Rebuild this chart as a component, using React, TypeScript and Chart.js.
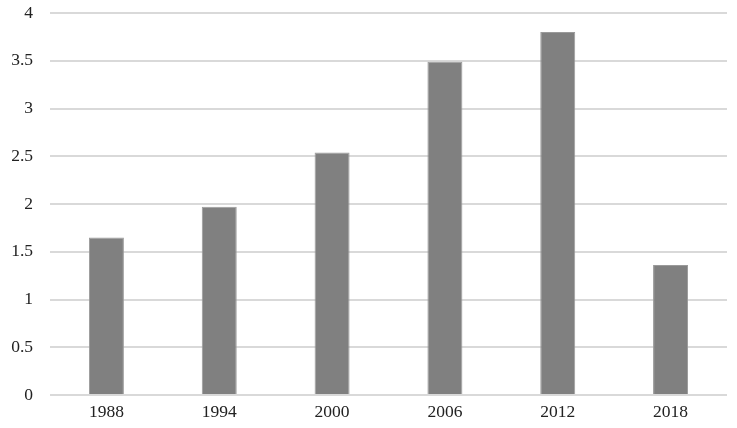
import React, { useEffect, useRef } from "react";
import { Chart, registerables } from "chart.js";

Chart.register(...registerables);

const categories = ["1988", "1994", "2000", "2006", "2012", "2018"];
const values = [1.65, 1.97, 2.54, 3.49, 3.8, 1.36];
const yTicks = [0, 0.5, 1, 1.5, 2, 2.5, 3, 3.5, 4];

export default function App() {
  const ref = useRef<HTMLCanvasElement>(null);
  useEffect(() => {
    document.body.style.margin = "0";
    const font = { family: "'Liberation Serif', 'Times New Roman', serif", size: 17.5 };
    const chart = new Chart(ref.current!, {
      type: "bar",
      data: {
        labels: categories,
        datasets: [
          {
            data: values,
            backgroundColor: "#808080",
            borderColor: "#9a9a9a",
            borderWidth: 1,
            categoryPercentage: 1,
            barPercentage: 0.31,
          },
        ],
      },
      options: {
        animation: false,
        responsive: false,
        maintainAspectRatio: false,
        layout: { padding: { left: 0, right: 10, top: 13, bottom: 0 } },
        plugins: { legend: { display: false }, tooltip: { enabled: false } },
        scales: {
          x: {
            grid: { display: false, drawTicks: false },
            border: { display: false },
            ticks: { color: "#222", font, padding: 7, maxRotation: 0 },
            afterFit: (s: any) => {
              s.height = 33;
              s.paddingLeft = 0;
              s.paddingRight = 0;
            },
          },
          y: {
            min: 0,
            max: 4,
            afterBuildTicks: (s: any) => {
              s.ticks = yTicks.map((v) => ({ value: v }));
            },
            grid: { color: "#d9d9d9", lineWidth: 2, drawTicks: false },
            border: { display: false },
            ticks: { color: "#222", font, padding: 17, callback: (v: any) => String(v) },
            afterFit: (s: any) => {
              s.width = 50;
              s.paddingTop = 0;
              s.paddingBottom = 0;
            },
          },
        },
      },
    });
    return () => chart.destroy();
  }, []);
  return (
    <div style={{ width: 737, height: 428 }}>
      <canvas ref={ref} width={737} height={428} />
    </div>
  );
}
